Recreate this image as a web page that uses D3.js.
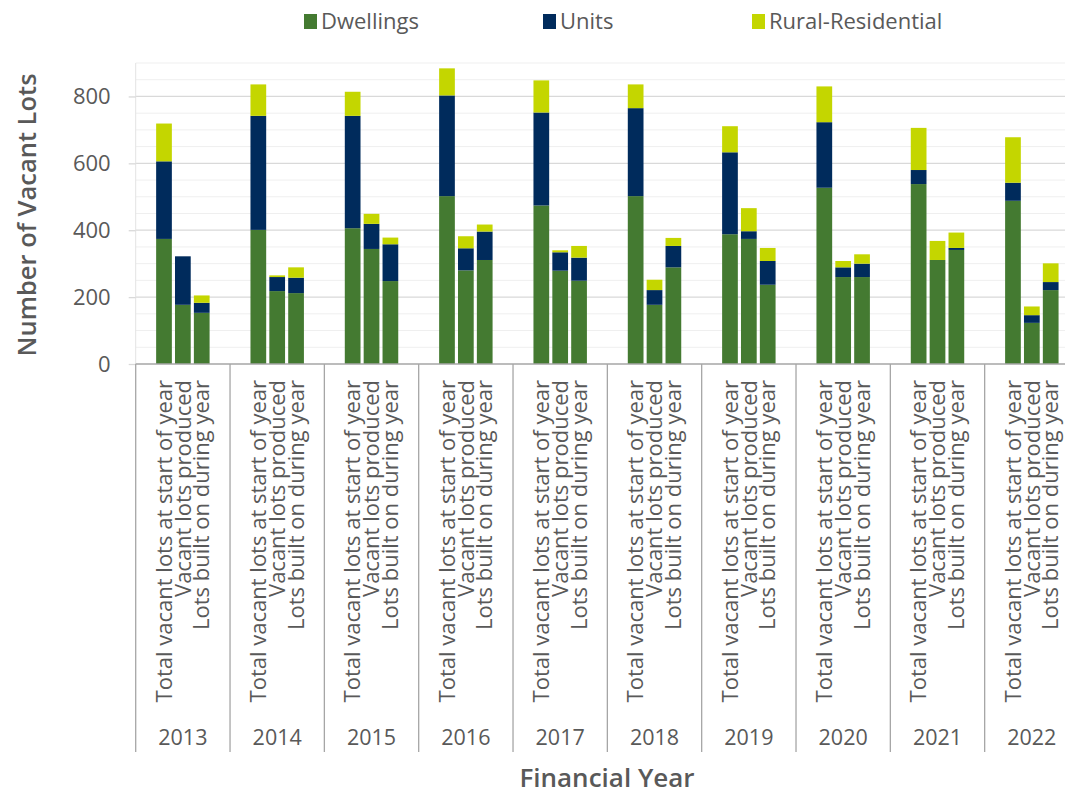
<!DOCTYPE html>
<html>
<head>
<meta charset="utf-8">
<script src="https://cdn.jsdelivr.net/npm/d3@7"></script>
<style>
  html, body { margin: 0; padding: 0; background: #fff; }
  svg { display: block; font-family: "Open Sans", sans-serif; }
</style>
</head>
<body>
<svg id="chart" width="1065" height="795"></svg>
<script>
// Financial years and the three measures shown for each year
const years = ["2013", "2014", "2015", "2016", "2017", "2018", "2019", "2020", "2021", "2022"];
const measures = ["Total vacant lots at start of year", "Vacant lots produced", "Lots built on during year"];
const seriesNames = ["Dwellings", "Units", "Rural-Residential"];
const seriesColors = ["#447a31", "#002b5c", "#c4d600"];

// Values per year, in measure order [start of year, produced, built on]
const dwellings = [
  [374, 177, 153], [401, 218, 212], [406, 344, 248], [502, 280, 311], [474, 279, 249],
  [502, 177, 289], [388, 374, 237], [527, 260, 260], [538, 311, 341], [488, 123, 221]
];
const units = [
  [232, 145, 30], [341, 42, 46], [336, 75, 110], [301, 66, 85], [278, 55, 69],
  [263, 44, 64], [245, 23, 71], [196, 29, 40], [42, 0, 6], [54, 23, 24]
];
const ruralResidential = [
  [113, 0, 22], [94, 5, 31], [72, 30, 20], [81, 36, 21], [96, 6, 35],
  [71, 31, 24], [78, 69, 39], [107, 19, 28], [126, 57, 46], [136, 26, 56]
];
const yTicks = [0, 200, 400, 600, 800];

// Flatten into one row per bar
const rows = [];
years.forEach((yr, i) => {
  measures.forEach((m, j) => {
    rows.push({ year: yr, measure: m,
      "Dwellings": dwellings[i][j], "Units": units[i][j], "Rural-Residential": ruralResidential[i][j] });
  });
});
const stacked = d3.stack().keys(seriesNames)(rows);

const svg = d3.select("#chart");
const plotLeft = 135.7, plotRight = 1079, plotTop = 63, plotBottom = 364;
const textColor = "#595959";

const y = d3.scaleLinear().domain([0, 900]).range([plotBottom, plotTop]);
const x0 = d3.scaleBand().domain(years).range([plotLeft, plotRight]);
const gw = x0.bandwidth();
const x1 = d3.scaleBand().domain(measures).range([gw * 0.2, gw * 0.8])
  .paddingInner(0.167).paddingOuter(0.0835);

// Gridlines: light every 50, darker every 200
const grid = svg.append("g");
d3.range(50, 901, 50).forEach(v => {
  grid.append("line")
    .attr("x1", plotLeft).attr("x2", 1065)
    .attr("y1", y(v)).attr("y2", y(v))
    .attr("stroke", v % 200 === 0 ? "#d9d9d9" : "#efefef")
    .attr("stroke-width", v % 200 === 0 ? 1.3 : 1);
});
// Vertical value-axis line
svg.append("line").attr("x1", plotLeft).attr("x2", plotLeft).attr("y1", plotTop).attr("y2", plotBottom)
  .attr("stroke", "#e3e3e3").attr("stroke-width", 1);

// Y axis ticks and labels
const yAxis = svg.append("g").attr("transform", `translate(${plotLeft},0)`)
  .call(d3.axisLeft(y).tickValues(yTicks).tickSize(7).tickPadding(18));
yAxis.select(".domain").remove();
yAxis.selectAll(".tick line").attr("stroke", "#d9d9d9").attr("stroke-width", 1.3);
yAxis.selectAll(".tick text").attr("fill", textColor)
  .style("font-size", "22px").style("font-family", "'Open Sans', sans-serif");

// Stacked bars
stacked.forEach((layer, k) => {
  svg.append("g").attr("fill", seriesColors[k])
    .selectAll("rect").data(layer.filter(d => d[1] > d[0])).enter().append("rect")
    .attr("x", d => x0(d.data.year) + x1(d.data.measure))
    .attr("width", x1.bandwidth())
    .attr("y", d => y(d[1]))
    .attr("height", d => y(d[0]) - y(d[1]));
});

// Category axis line and group separators
svg.append("line").attr("x1", plotLeft).attr("x2", 1065).attr("y1", plotBottom).attr("y2", plotBottom)
  .attr("stroke", "#a6a6a6").attr("stroke-width", 1.3);
years.concat(["end"]).forEach((yr, i) => {
  const xs = plotLeft + i * gw;
  svg.append("line").attr("x1", xs).attr("x2", xs).attr("y1", plotBottom).attr("y2", 752)
    .attr("stroke", "#a6a6a6").attr("stroke-width", 1.3);
});

// Rotated measure labels and year labels
const cats = svg.append("g");
years.forEach(yr => {
  measures.forEach(m => {
    const cx = x0(yr) + x1(m) + x1.bandwidth() / 2;
    cats.append("text")
      .attr("transform", `translate(${cx},380) rotate(-90)`)
      .attr("text-anchor", "end")
      .attr("dy", "0.35em")
      .attr("fill", textColor)
      .style("font-size", "22px")
      .text(m);
  });
  cats.append("text")
    .attr("x", x0(yr) + gw / 2).attr("y", 745)
    .attr("text-anchor", "middle")
    .attr("fill", textColor)
    .style("font-size", "21.5px")
    .text(yr);
});

// Axis titles
svg.append("text")
  .attr("transform", "translate(36,215) rotate(-90)")
  .attr("text-anchor", "middle")
  .attr("fill", textColor)
  .style("font-size", "25.5px").style("font-weight", 600)
  .text("Number of Vacant Lots");
svg.append("text")
  .attr("x", 607).attr("y", 787)
  .attr("text-anchor", "middle")
  .attr("fill", textColor)
  .style("font-size", "26px").style("font-weight", 600)
  .text("Financial Year");

// Legend
const legendX = [304, 543, 752];
const legend = svg.append("g");
seriesNames.forEach((s, i) => {
  legend.append("rect").attr("x", legendX[i]).attr("y", 14).attr("width", 13).attr("height", 15)
    .attr("fill", seriesColors[i]);
  legend.append("text").attr("x", legendX[i] + 17).attr("y", 29)
    .attr("fill", textColor).style("font-size", "22px").text(s);
});
</script>
</body>
</html>
